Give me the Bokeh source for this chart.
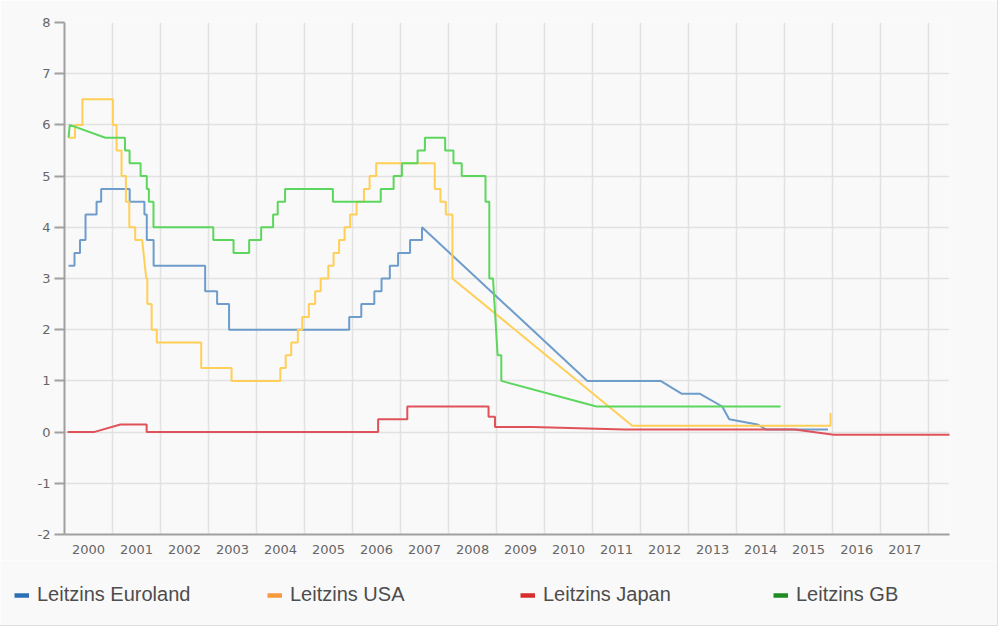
import pandas as pd
from bokeh.plotting import figure
from bokeh.layouts import column
from bokeh.models import (FixedTicker, DatetimeTickFormatter, Range1d, Legend, LegendItem)
from bokeh.embed import file_html
from bokeh.resources import INLINE

# ---------------- data (vertices) ----------------
ecb_dates = ["2000-02-01", "2000-03-17", "2000-03-17", "2000-04-28", "2000-04-28",
             "2000-06-09", "2000-06-09", "2000-09-01", "2000-09-01", "2000-10-06",
             "2000-10-06", "2001-05-11", "2001-05-11", "2001-08-31", "2001-08-31",
             "2001-09-18", "2001-09-18", "2001-11-09", "2001-11-09", "2002-12-06",
             "2002-12-06", "2003-03-07", "2003-03-07", "2003-06-06", "2003-06-06",
             "2005-12-06", "2005-12-06", "2006-03-08", "2006-03-08", "2006-06-15",
             "2006-06-15", "2006-08-09", "2006-08-09", "2006-10-11", "2006-10-11",
             "2006-12-13", "2006-12-13", "2007-03-14", "2007-03-14", "2007-06-13",
             "2007-06-13", "2010-11-22", "2012-06-01", "2012-11-07", "2013-03-25",
             "2013-09-13", "2013-11-05", "2014-06-07", "2014-08-15", "2015-11-26"]
ecb_values = [3.25, 3.25, 3.5, 3.5, 3.75,
              3.75, 4.25, 4.25, 4.5, 4.5,
              4.75, 4.75, 4.5, 4.5, 4.25,
              4.25, 3.75, 3.75, 3.25, 3.25,
              2.75, 2.75, 2.5, 2.5, 2.0,
              2.0, 2.25, 2.25, 2.5, 2.5,
              2.75, 2.75, 3.0, 3.0, 3.25,
              3.25, 3.5, 3.5, 3.75, 3.75,
              4.0, 1.0, 1.0, 0.75, 0.75,
              0.5, 0.25, 0.15, 0.05, 0.05]

usa_dates = ["2000-02-02", "2000-03-21", "2000-03-21", "2000-05-16", "2000-05-16",
             "2001-01-03", "2001-01-03", "2001-01-31", "2001-01-31", "2001-03-10",
             "2001-03-10", "2001-04-12", "2001-04-12", "2001-05-08", "2001-05-08",
             "2001-06-22", "2001-06-22", "2001-08-14", "2001-09-14", "2001-09-22",
             "2001-09-22", "2001-10-25", "2001-10-25", "2001-12-03", "2001-12-03",
             "2002-11-06", "2002-11-06", "2003-06-25", "2003-06-25", "2004-06-30",
             "2004-06-30", "2004-08-10", "2004-08-10", "2004-09-21", "2004-09-21",
             "2004-11-10", "2004-11-10", "2004-12-14", "2004-12-14", "2005-02-02",
             "2005-02-02", "2005-03-22", "2005-03-22", "2005-05-03", "2005-05-03",
             "2005-06-30", "2005-06-30", "2005-08-09", "2005-08-09", "2005-09-20",
             "2005-09-20", "2005-11-01", "2005-11-01", "2005-12-13", "2005-12-13",
             "2006-01-31", "2006-01-31", "2006-03-28", "2006-03-28", "2006-05-10",
             "2006-05-10", "2006-06-29", "2006-06-29", "2007-09-18", "2007-09-18",
             "2007-10-31", "2007-10-31", "2007-12-11", "2007-12-11", "2008-01-30",
             "2008-01-30", "2011-10-29", "2015-12-16", "2015-12-16"]
usa_values = [5.75, 5.75, 6.0, 6.0, 6.5,
              6.5, 6.0, 6.0, 5.5, 5.5,
              5.0, 5.0, 4.5, 4.5, 4.0,
              4.0, 3.75, 3.75, 3.0, 3.0,
              2.5, 2.5, 2.0, 2.0, 1.75,
              1.75, 1.25, 1.25, 1.0, 1.0,
              1.25, 1.25, 1.5, 1.5, 1.75,
              1.75, 2.0, 2.0, 2.25, 2.25,
              2.5, 2.5, 2.75, 2.75, 3.0,
              3.0, 3.25, 3.25, 3.5, 3.5,
              3.75, 3.75, 4.0, 4.0, 4.25,
              4.25, 4.5, 4.5, 4.75, 4.75,
              5.0, 5.0, 5.25, 5.25, 4.75,
              4.75, 4.5, 4.5, 4.25, 4.25,
              3.0, 0.125, 0.125, 0.375]

japan_dates = ["2000-01-24", "2000-08-11", "2001-03-01", "2001-09-17", "2001-09-17",
               "2006-07-14", "2006-07-14", "2007-02-21", "2007-02-21", "2008-10-31",
               "2008-10-31", "2008-12-19", "2008-12-19", "2009-10-01", "2011-09-01",
               "2015-03-18", "2016-01-10", "2018-06-30"]
japan_values = [0.0, 0.0, 0.15, 0.15, 0.0,
                0.0, 0.25, 0.25, 0.5, 0.5,
                0.3, 0.3, 0.1, 0.1, 0.05,
                0.05, -0.05, -0.05]

gb_dates = ["2000-02-01", "2000-02-10", "2000-11-07", "2001-04-05", "2001-04-05",
            "2001-05-10", "2001-05-10", "2001-08-02", "2001-08-02", "2001-09-18",
            "2001-09-18", "2001-10-04", "2001-10-04", "2001-11-08", "2001-11-08",
            "2003-02-06", "2003-02-06", "2003-07-10", "2003-07-10", "2003-11-06",
            "2003-11-06", "2004-02-05", "2004-02-05", "2004-05-06", "2004-05-06",
            "2004-06-10", "2004-06-10", "2004-08-05", "2004-08-05", "2005-08-04",
            "2005-08-04", "2006-08-03", "2006-08-03", "2006-11-09", "2006-11-09",
            "2007-01-11", "2007-01-11", "2007-05-10", "2007-05-10", "2007-07-05",
            "2007-07-05", "2007-12-06", "2007-12-06", "2008-02-07", "2008-02-07",
            "2008-04-10", "2008-04-10", "2008-10-08", "2008-10-08", "2008-11-06",
            "2008-11-06", "2008-12-04", "2009-01-08", "2009-02-05", "2009-02-05",
            "2011-01-30", "2014-12-01"]
gb_values = [5.75, 6.0, 5.75, 5.75, 5.5,
             5.5, 5.25, 5.25, 5.0, 5.0,
             4.75, 4.75, 4.5, 4.5, 4.0,
             4.0, 3.75, 3.75, 3.5, 3.5,
             3.75, 3.75, 4.0, 4.0, 4.25,
             4.25, 4.5, 4.5, 4.75, 4.75,
             4.5, 4.5, 4.75, 4.75, 5.0,
             5.0, 5.25, 5.25, 5.5, 5.5,
             5.75, 5.75, 5.5, 5.5, 5.25,
             5.25, 5.0, 5.0, 4.5, 4.5,
             3.0, 3.0, 1.5, 1.5, 1.0,
             0.5, 0.5]

series_names = ["Leitzins Euroland", "Leitzins USA", "Leitzins Japan", "Leitzins GB"]
label_years = list(range(2000, 2018))
grid_years = list(range(2001, 2019))
y_ticks = [-2, -1, 0, 1, 2, 3, 4, 5, 6, 7, 8]

# ---------------- styling ----------------
BG = "#f9f9f9"
line_colors = ["#6e9ccb", "#ffcf57", "#e0525a", "#5cd65c"]
legend_colors = ["#2d6fb4", "#f79a3b", "#d62d2d", "#1e8c1e"]


def ms(d):
    return pd.Timestamp(d).value / 1e6


p = figure(width=997, height=560, output_backend="svg", toolbar_location=None,
           x_axis_type="datetime",
           x_range=Range1d(ms("2000-01-01"), ms("2018-06-08")),
           y_range=Range1d(-2, 8),
           min_border_left=64, min_border_right=48, min_border_top=22, min_border_bottom=26)
p.frame_align = False
p.background_fill_color = BG
p.border_fill_color = BG
p.outline_line_color = None

series = [(ecb_dates, ecb_values), (usa_dates, usa_values),
          (japan_dates, japan_values), (gb_dates, gb_values)]
for (d, v), c in zip(series, line_colors):
    p.line(pd.to_datetime(d), v, line_color=c, line_width=2)

# x axis
xa = p.xaxis[0]
xa.ticker = FixedTicker(ticks=[ms(f"{y}-07-02") for y in label_years])
fmt = "%Y"
xa.formatter = DatetimeTickFormatter(milliseconds=fmt, seconds=fmt, minsec=fmt, minutes=fmt,
                                     hourmin=fmt, hours=fmt, days=fmt, months=fmt, years=fmt)
xa.major_tick_out = 0
xa.major_tick_in = 0
xa.minor_tick_out = 0
xa.minor_tick_in = 0
xa.major_label_standoff = 10
xa.axis_line_color = "#a0a0a0"
xa.axis_line_width = 2
xa.major_label_text_font = "DejaVu Sans"
xa.major_label_text_font_size = "13px"
xa.major_label_text_color = "#666666"

# y axis
ya = p.yaxis[0]
ya.ticker = FixedTicker(ticks=y_ticks)
ya.major_label_overrides = {t: str(t) for t in y_ticks}
ya.major_tick_out = 10
ya.major_tick_in = 0
ya.minor_tick_out = 0
ya.minor_tick_in = 0
ya.major_label_standoff = 4
ya.axis_line_color = "#a0a0a0"
ya.axis_line_width = 2
ya.major_tick_line_color = "#a0a0a0"
ya.major_tick_line_width = 2
ya.major_label_text_font = "DejaVu Sans"
ya.major_label_text_font_size = "13px"
ya.major_label_text_color = "#666666"

# grids
p.xgrid.ticker = FixedTicker(ticks=[ms(f"{y}-01-01") for y in grid_years])
p.ygrid.ticker = FixedTicker(ticks=y_ticks[1:-1])
for g in (p.xgrid, p.ygrid):
    g.grid_line_color = "#e2e2e2"
    g.grid_line_width = 1.5

# ---------------- legend strip below the chart ----------------
lg = figure(width=997, height=65, output_backend="svg", toolbar_location=None,
            x_range=Range1d(0, 1), y_range=Range1d(0, 1),
            x_axis_location=None, y_axis_location=None,
            min_border_left=0, min_border_right=0, min_border_top=0, min_border_bottom=0)
lg.frame_align = False
lg.background_fill_color = BG
lg.border_fill_color = BG
lg.outline_line_color = None
lg.grid.visible = False

nan = float("nan")
items = []
for name, c in zip(series_names, legend_colors):
    r = lg.line(x=[nan], y=[nan], line_color=c, line_width=4.5)
    items.append(LegendItem(label=name, renderers=[r]))

legend = Legend(items=items, orientation="horizontal", location=(14, 19),
                glyph_width=15, glyph_height=20, label_standoff=8, label_width=230,
                spacing=0, padding=0, margin=0,
                border_line_color=None, background_fill_alpha=0,
                label_text_font="Liberation Sans", label_text_font_size="20px",
                label_text_color="#4d4d4d")
lg.add_layout(legend, "center")

layout = column(p, lg, spacing=0,
                styles={"border-right": "1px solid #dedede",
                        "border-bottom": "1px solid #dedede"})

open("out.html", "w").write(file_html(layout, INLINE))
